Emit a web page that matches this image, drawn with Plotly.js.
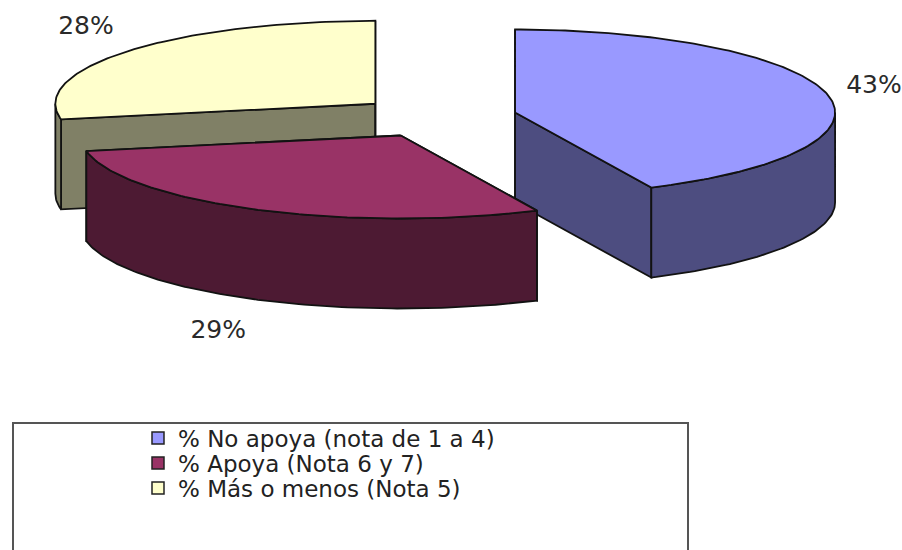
<!DOCTYPE html>
<html><head><meta charset="utf-8">
<script src="https://cdn.plot.ly/plotly-3.0.1.min.js"></script>
<style>html,body{margin:0;padding:0;background:#fff}#chart{width:902px;height:550px}</style>
</head><body><div id="chart"></div>
<script>
// ---- data ----
const categories = ['% No apoya (nota de 1 a 4)', '% Apoya (Nota 6 y 7)', '% Más o menos (Nota 5)'];
const values = [43, 29, 28];
const topColors = ['#9999FF', '#993366', '#FFFFCC'];
const sideColors = ['#4D4D80', '#4D1A33', '#808066'];

// ---- 3D pie geometry (style constants) ----
const CX = 437, CY = 117, RX = 320, RY = 83, DEPTH = 90, EXPLODE = 0.25;
const LABEL_HALF = 29, LABEL_GX = 18, LABEL_GY = 36;
const OUTLINE = '#121212';
const total = values.reduce((a, b) => a + b, 0);
const rad = d => d * Math.PI / 180;
function pt(cx, cy, t, dy) { return [cx + RX * Math.sin(rad(t)), cy - RY * Math.cos(rad(t)) + (dy || 0)]; }
function arc(cx, cy, a0, a1, dy) {
  const pts = []; const n = Math.max(2, Math.ceil(Math.abs(a1 - a0)));
  for (let i = 0; i <= n; i++) pts.push(pt(cx, cy, a0 + (a1 - a0) * i / n, dy));
  return pts;
}
function poly(points, fill) {
  return {type: 'scatter', mode: 'lines', fill: 'toself', fillcolor: fill,
    x: points.map(p => p[0]), y: points.map(p => p[1]),
    line: {color: OUTLINE, width: 1.8}, hoverinfo: 'skip', showlegend: false};
}

// build slices
let start = 0;
const slices = values.map((v, i) => {
  const a0 = start, a1 = start + v / total * 360; start = a1;
  const mid = (a0 + a1) / 2;
  const cx = CX + EXPLODE * RX * Math.sin(rad(mid));
  const cy = CY - EXPLODE * RY * Math.cos(rad(mid));
  return {i, a0, a1, mid, cx, cy};
});
const order = slices.slice().sort((p, q) => (-Math.cos(rad(p.mid))) - (-Math.cos(rad(q.mid))));

const traces = [];
order.forEach(s => {
  const side = sideColors[s.i], top = topColors[s.i];
  const c = [s.cx, s.cy], cd = [s.cx, s.cy + DEPTH];
  [s.a0, s.a1].forEach(a => {
    traces.push(poly([c, pt(s.cx, s.cy, a), pt(s.cx, s.cy, a, DEPTH), cd, c], side));
  });
  const lo = Math.max(s.a0, 90), hi = Math.min(s.a1, 270);
  if (hi > lo) {
    const upper = arc(s.cx, s.cy, lo, hi, 0);
    const lower = arc(s.cx, s.cy, hi, lo, DEPTH);
    traces.push(poly(upper.concat(lower, [upper[0]]), side));
  }
  traces.push(poly([c].concat(arc(s.cx, s.cy, s.a0, s.a1, 0), [c]), top));
});

// percentage labels
const lx = [], ly = [], lt = [];
slices.forEach(s => {
  const sn = Math.sin(rad(s.mid)), cs = Math.cos(rad(s.mid));
  const p = pt(s.cx, s.cy, s.mid, cs < 0 ? DEPTH : 0);
  lx.push(p[0] + Math.sign(sn) * LABEL_HALF + LABEL_GX * sn);
  ly.push(p[1] - LABEL_GY * cs);
  lt.push(Math.round(values[s.i] / total * 100) + '%');
});
traces.push({type: 'scatter', mode: 'text', x: lx, y: ly, text: lt, textposition: 'middle center',
  textfont: {family: 'DejaVu Sans', size: 25, color: '#2a2a2a'}, hoverinfo: 'skip', showlegend: false});

// legend entries (one legend per row for exact spacing)
const legendNames = ['legend', 'legend2', 'legend3'];
categories.forEach((name, i) => {
  traces.push({type: 'scatter', mode: 'markers', x: [null], y: [null], name: name, legend: legendNames[i],
    marker: {symbol: 'square', size: 12, color: topColors[i], line: {color: '#222', width: 1.5}},
    hoverinfo: 'skip', showlegend: true});
});
const rowY = [438, 463, 488];
function legendAt(y) {
  return {x: 138 / 902, y: 1 - y / 550, xanchor: 'left', yanchor: 'middle',
    font: {family: 'DejaVu Sans', size: 23, color: '#222'}, bgcolor: 'rgba(0,0,0,0)', borderwidth: 0};
}

const layout = {
  width: 902, height: 550, margin: {l: 0, r: 0, t: 0, b: 0},
  paper_bgcolor: '#fff', plot_bgcolor: '#fff',
  xaxis: {range: [0, 902], visible: false, fixedrange: true},
  yaxis: {range: [550, 0], visible: false, fixedrange: true},
  showlegend: true,
  legend: legendAt(rowY[0]), legend2: legendAt(rowY[1]), legend3: legendAt(rowY[2]),
  shapes: [{type: 'rect', xref: 'paper', yref: 'paper', x0: 13 / 902, x1: 688 / 902,
    y0: -0.05, y1: 1 - 423 / 550, line: {color: '#555', width: 2}, fillcolor: 'rgba(0,0,0,0)', layer: 'below'}]
};
Plotly.newPlot('chart', traces, layout, {displayModeBar: false, staticPlot: true});
</script></body></html>
